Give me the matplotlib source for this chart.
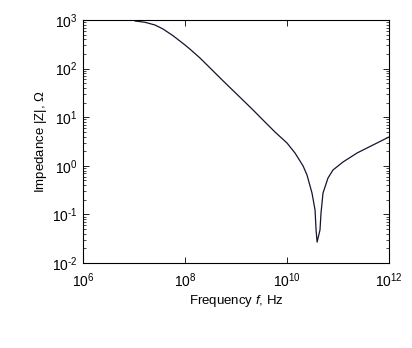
import matplotlib
matplotlib.use("Agg")
import matplotlib.pyplot as plt
import numpy as np
from matplotlib.ticker import FixedLocator, NullLocator, NullFormatter, FuncFormatter

plt.rcParams['font.family'] = ['Liberation Sans', 'DejaVu Sans']
plt.rcParams['mathtext.fontset'] = 'custom'
plt.rcParams['mathtext.rm'] = 'Liberation Sans'
plt.rcParams['mathtext.it'] = 'Liberation Sans:italic'

# points (log10 of frequency / impedance)
log_f = [7.02, 7.216, 7.412, 7.569, 7.765, 8.0, 8.098, 8.294, 8.49, 8.686,
         8.882, 9.039, 9.314, 9.569, 9.765, 10.0, 10.157, 10.314, 10.392,
         10.49, 10.55, 10.57, 10.59, 10.647, 10.667, 10.706, 10.804, 10.902,
         11.098, 11.373, 11.686, 12.0]
log_z = [2.98, 2.953, 2.897, 2.815, 2.677, 2.486, 2.40, 2.218, 2.015, 1.81,
         1.61, 1.45, 1.17, 0.90, 0.695, 0.469, 0.263, 0.0, -0.189,
         -0.56, -0.91, -1.32, -1.57, -1.32, -0.97, -0.56, -0.251, -0.086,
         0.078, 0.263, 0.428, 0.593]

x_ticks = [1e6, 1e8, 1e10, 1e12]
y_ticks = [1e-2, 1e-1, 1e0, 1e1, 1e2, 1e3]

freq = 10 ** np.array(log_f)
imp = 10 ** np.array(log_z)

fig = plt.figure(figsize=(4.12, 3.48), dpi=100)
ax = fig.add_axes([83 / 412, 1 - 263 / 348, 306 / 412, 243 / 348])

ax.plot(freq, imp, color='#14142e', lw=0.9)

ax.set_xscale('log')
ax.set_yscale('log')
ax.set_xlim(1e6, 1e12)
ax.set_ylim(1e-2, 1e3)


def pow_label(v, pos):
    e = int(round(np.log10(v)))
    s = str(e).replace('-', '\u2010')
    return '$10^{%s}$' % s


# minor ticks on y only, 2..9 inside each decade
y_minor = [m * 10.0 ** d for d in range(-2, 3) for m in range(2, 10)]

ax.xaxis.set_major_locator(FixedLocator(x_ticks))
ax.xaxis.set_minor_locator(NullLocator())
ax.yaxis.set_major_locator(FixedLocator(y_ticks))
ax.yaxis.set_minor_locator(FixedLocator(y_minor))
ax.yaxis.set_minor_formatter(NullFormatter())
ax.xaxis.set_major_formatter(FuncFormatter(pow_label))
ax.yaxis.set_major_formatter(FuncFormatter(pow_label))

ax.tick_params(which='both', direction='in', top=True, right=True,
               labelsize=10, color='black')
ax.tick_params(which='major', length=4, width=0.6)
ax.tick_params(which='minor', length=2, width=0.5)
ax.tick_params(axis='x', pad=6)
ax.tick_params(axis='y', pad=4)
for s in ax.spines.values():
    s.set_linewidth(0.8)

ax.set_xlabel('Frequency $f$, Hz', fontsize=9.5, labelpad=2)
ax.set_ylabel('Impedance |Z|, $\\Omega$', fontsize=9.5, labelpad=2)

fig.savefig('out.png', dpi=100)
